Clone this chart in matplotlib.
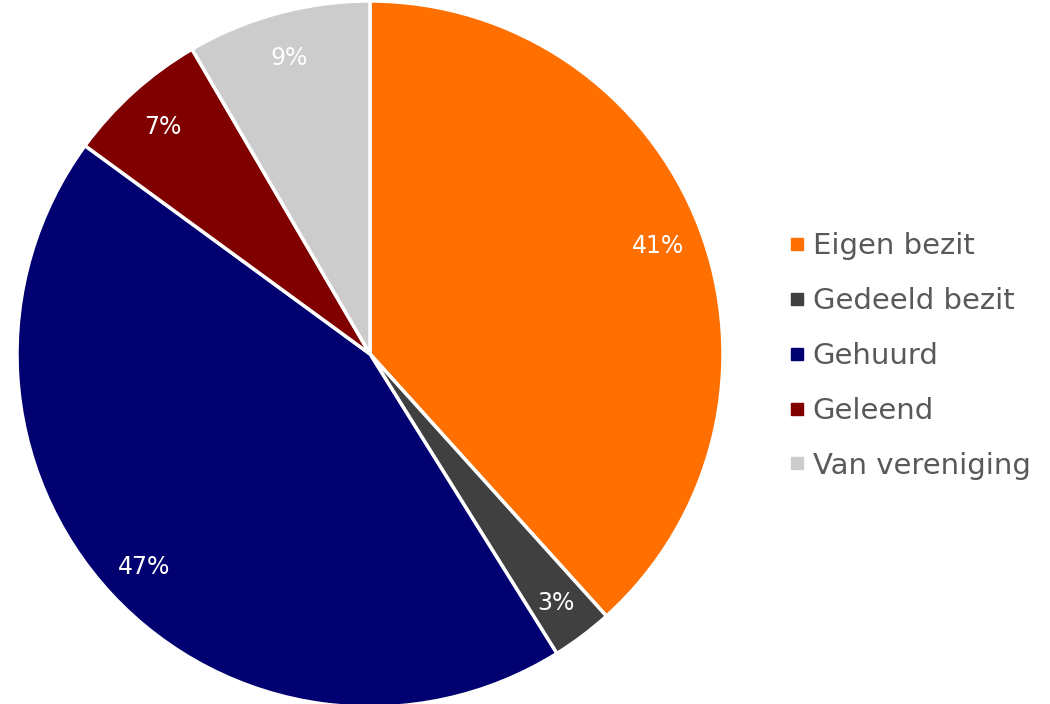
import matplotlib.pyplot as plt
from matplotlib.lines import Line2D

# data
categories = ["Eigen bezit", "Gedeeld bezit", "Gehuurd", "Geleend", "Van vereniging"]
values = [41, 3, 47, 7, 9]
pct_labels = ["41%", "3%", "47%", "7%", "9%"]
colors = ["#FF7000", "#404040", "#000070", "#800000", "#CCCCCC"]

plt.rcParams['font.family'] = ['DejaVu Sans']

fig = plt.figure(figsize=(10.5, 7.04), dpi=100)
ax = fig.add_axes([0, 0, 1, 1])

# pie centre at (370, 354) px, radius ~353 px
R = 353.0
cx, cy = 370.0, 354.0
wedges, texts = ax.pie(
    values,
    labels=pct_labels,
    colors=colors,
    startangle=90,
    counterclock=False,
    radius=1,
    labeldistance=0.875,
    wedgeprops=dict(edgecolor="white", linewidth=2.5),
    textprops=dict(color="white", fontsize=17),
)
for t in texts:
    t.set_ha("center")
    t.set_va("center_baseline")

ax.set_xlim(-cx / R, (1050 - cx) / R)
ax.set_ylim(-(704 - cy) / R, cy / R)
ax.set_aspect("equal")
ax.axis("off")

handles = [Line2D([], [], marker="s", linestyle="none", markersize=9,
                  markerfacecolor=c, markeredgecolor=c) for c in colors]
leg = fig.legend(handles, categories, loc="center left",
                 bbox_to_anchor=(788 / 1050, 1 - 356 / 704),
                 frameon=False, fontsize=21, labelspacing=0.92,
                 handlelength=0.6, handletextpad=0.25, borderpad=0,
                 borderaxespad=0)
for t in leg.get_texts():
    t.set_color("#595959")

fig.savefig("out.png", dpi=100)
